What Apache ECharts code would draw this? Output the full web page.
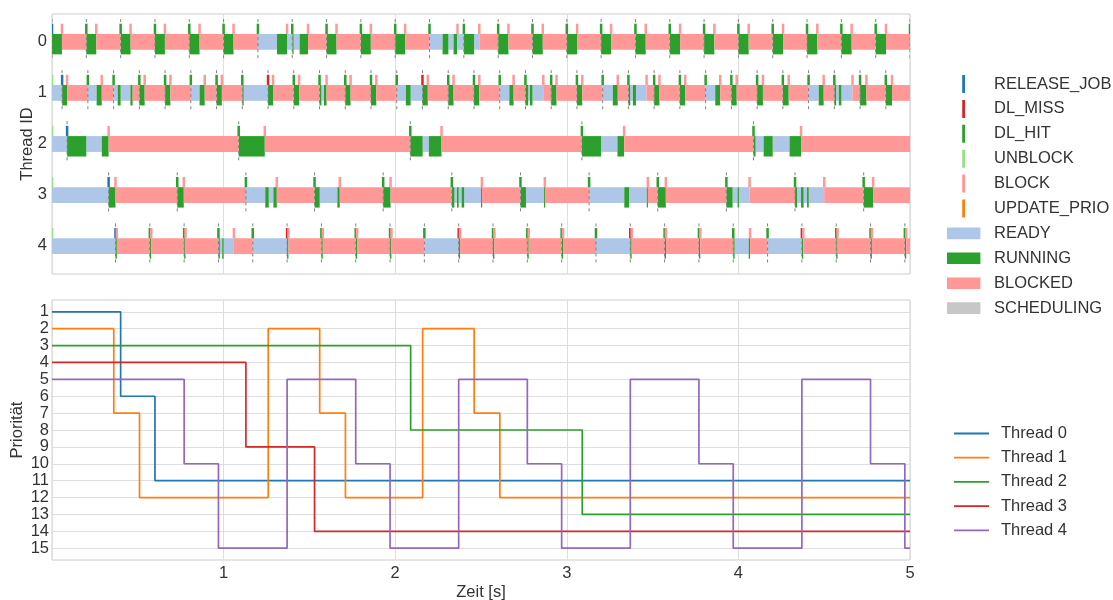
<!DOCTYPE html>
<html>
<head>
<meta charset="utf-8">
<title>Scheduling</title>
<script src="https://cdn.jsdelivr.net/npm/echarts@6.0.0/dist/echarts.min.js"></script>
<style>
    html, body { margin: 0; padding: 0; background: #fff; }
    #chart { width: 1113px; height: 600px; }
</style>
</head>
<body>
<div id="chart"></div>
<script>
// state codes
const R = 'READY', X = 'RUNNING', B = 'BLOCKED';
// event codes
const J = 'RELEASE_JOB', M = 'DL_MISS', H = 'DL_HIT', U = 'UNBLOCK', K = 'BLOCK';

const threadIds = [0, 1, 2, 3, 4];
const stateNames = ['READY', 'RUNNING', 'BLOCKED', 'SCHEDULING'];
const eventNames = ['RELEASE_JOB', 'DL_MISS', 'DL_HIT', 'UNBLOCK', 'BLOCK', 'UPDATE_PRIO'];
const threadNames = ['Thread 0', 'Thread 1', 'Thread 2', 'Thread 3', 'Thread 4'];
const xTicks = [0, 1, 2, 3, 4, 5];
const prioTicks = [1, 2, 3, 4, 5, 6, 7, 8, 9, 10, 11, 12, 13, 14, 15];
const tEnd = 5;

// state changes per thread: [time, state], state holds until next change
const thread0States = [
    [0, X], [0.058, B], [0.2, X], [0.258, B], [0.4, X], [0.458, B], [0.6, X], [0.658, B],
    [0.8, X], [0.86, B], [1.0, X], [1.058, B],
    [1.2, R], [1.311, X], [1.37, R], [1.401, X], [1.408, R], [1.443, X], [1.492, B],
    [1.6, X], [1.658, B], [1.8, X], [1.858, B], [2.0, X], [2.058, B],
    [2.2, R], [2.276, X], [2.31, R], [2.34, X], [2.36, R], [2.4, X], [2.46, R], [2.49, B],
    [2.6, X], [2.66, B], [2.8, X], [2.86, B], [3.0, X], [3.06, B], [3.2, X], [3.258, B],
    [3.4, X], [3.46, B], [3.6, X], [3.66, B], [3.8, X], [3.86, B], [4.0, X], [4.06, B],
    [4.2, X], [4.26, B], [4.4, X], [4.46, B], [4.6, X], [4.66, B], [4.8, X], [4.86, B]
];
const thread1States = [
    [0, R], [0.059, X], [0.088, B], [0.209, R], [0.26, X], [0.29, B],
    [0.359, R], [0.383, X], [0.4, R], [0.457, X], [0.47, B], [0.509, X], [0.54, B],
    [0.659, X], [0.69, B], [0.809, R], [0.86, X], [0.89, B], [0.959, X], [0.99, B],
    [1.109, X], [1.117, R], [1.259, X], [1.288, B], [1.409, X], [1.44, B],
    [1.559, X], [1.57, R], [1.585, X], [1.6, B], [1.709, X], [1.74, B], [1.859, X], [1.89, B],
    [2.009, R], [2.062, X], [2.09, R], [2.159, X], [2.19, B], [2.309, X], [2.34, B],
    [2.459, X], [2.49, B], [2.609, R], [2.665, X], [2.69, B],
    [2.759, X], [2.775, R], [2.785, X], [2.8, R], [2.863, B], [2.909, X], [2.94, B],
    [3.059, X], [3.09, B], [3.209, R], [3.268, X], [3.297, B],
    [3.359, X], [3.37, R], [3.385, X], [3.403, R], [3.465, B], [3.509, X], [3.54, B],
    [3.659, X], [3.69, B], [3.809, R], [3.865, X], [3.894, B], [3.959, X], [3.99, B],
    [4.109, X], [4.143, B], [4.259, X], [4.293, B], [4.409, R], [4.468, X], [4.497, B],
    [4.559, X], [4.57, R], [4.585, X], [4.6, R], [4.665, B], [4.709, X], [4.746, B],
    [4.859, X], [4.895, B]
];
const thread2States = [
    [0, R], [0.088, X], [0.2, R], [0.29, X], [0.33, B],
    [1.088, X], [1.24, B],
    [2.088, X], [2.16, R], [2.196, X], [2.27, B],
    [3.088, X], [3.2, R], [3.295, X], [3.334, B],
    [4.088, X], [4.1, R], [4.147, X], [4.2, R], [4.298, X], [4.365, B]
];
const thread3States = [
    [0, R], [0.33, X], [0.37, B], [0.73, X], [0.768, B],
    [1.13, R], [1.243, X], [1.263, R], [1.29, X], [1.31, B],
    [1.53, X], [1.56, R], [1.663, X], [1.677, B], [1.93, X], [1.973, B],
    [2.33, X], [2.345, R], [2.36, X], [2.37, R], [2.387, X], [2.402, R], [2.5, X], [2.505, B],
    [2.73, X], [2.762, R], [2.867, X], [2.872, B],
    [3.13, R], [3.335, X], [3.363, R], [3.466, X], [3.472, B], [3.53, X], [3.577, B],
    [3.93, X], [3.966, R], [3.995, X], [4.003, R], [4.065, B],
    [4.33, X], [4.342, R], [4.365, X], [4.38, R], [4.4, X], [4.41, R], [4.5, B],
    [4.73, X], [4.785, B]
];
const thread4States = [
    [0, R], [0.37, X], [0.378, B], [0.57, X], [0.578, B], [0.77, X], [0.778, B],
    [0.97, X], [0.978, R], [0.992, X], [1.0, R], [1.06, B],
    [1.17, R], [1.37, X], [1.378, B], [1.57, X], [1.578, B], [1.77, X], [1.778, B], [1.97, X], [1.978, B],
    [2.17, R], [2.37, X], [2.378, B], [2.57, X], [2.578, B], [2.77, X], [2.778, B], [2.97, X], [2.978, B],
    [3.17, R], [3.37, X], [3.378, B], [3.57, X], [3.578, B], [3.77, X], [3.778, B],
    [3.97, X], [3.978, R], [4.06, X], [4.068, B],
    [4.17, R], [4.37, X], [4.378, B], [4.57, X], [4.578, B], [4.77, X], [4.778, B], [4.97, X], [4.978, B]
];

// events per thread: [time, event]
const thread0Events = [
    [0, J], [0.2, H], [0.4, H], [0.6, H], [0.8, H], [1.0, H], [1.2, H], [1.4, H], [1.6, H], [1.8, H],
    [2.0, H], [2.2, H], [2.4, H], [2.6, H], [2.8, H], [3.0, H], [3.2, H], [3.4, H], [3.6, H], [3.8, H],
    [4.0, H], [4.2, H], [4.4, H], [4.6, H], [4.8, H], [5.0, H],
    [0.058, K], [0.258, K], [0.458, K], [0.658, K], [0.86, K], [1.058, K], [1.37, K], [1.492, K],
    [1.658, K], [1.858, K], [2.058, K], [2.363, K], [2.49, K], [2.66, K], [2.86, K], [3.06, K],
    [3.258, K], [3.46, K], [3.66, K], [3.86, K], [4.06, K], [4.26, K], [4.46, K], [4.66, K], [4.86, K]
];
const thread1Events = [
    [0, U], [0.059, J], [0.209, H], [0.359, H], [0.509, H], [0.659, H], [0.809, H], [0.959, H],
    [1.109, H], [1.259, M], [1.409, H], [1.559, H], [1.709, H], [1.859, H], [2.009, H], [2.159, M],
    [2.309, H], [2.459, H], [2.609, H], [2.759, H], [2.909, H], [3.059, H], [3.209, H], [3.359, H],
    [3.509, H], [3.659, H], [3.809, H], [3.959, H], [4.109, H], [4.259, H], [4.409, H], [4.559, H],
    [4.709, H], [4.859, H],
    [0.088, K], [0.29, K], [0.54, K], [0.69, K], [0.89, K], [0.99, K], [1.288, K], [1.44, K],
    [1.6, K], [1.74, K], [1.89, K], [2.19, K], [2.34, K], [2.49, K], [2.69, K], [2.863, K],
    [2.94, K], [3.09, K], [3.297, K], [3.465, K], [3.54, K], [3.69, K], [3.894, K], [3.99, K],
    [4.143, K], [4.293, K], [4.497, K], [4.665, K], [4.746, K], [4.895, K]
];
const thread2Events = [
    [0, U], [0.088, J], [1.088, H], [2.088, H], [3.088, H], [4.088, H],
    [0.33, K], [1.24, K], [2.27, K], [3.334, K], [4.365, K]
];
const thread3Events = [
    [0, U], [0.33, J], [0.73, H], [1.13, H], [1.53, H], [1.93, H], [2.33, H], [2.73, H],
    [3.13, H], [3.53, H], [3.93, H], [4.33, H], [4.73, H],
    [0.37, K], [0.768, K], [1.31, K], [1.677, K], [1.973, K], [2.505, K], [2.872, K],
    [3.472, K], [3.577, K], [4.065, K], [4.5, K], [4.785, K]
];
const thread4Events = [
    [0, U], [0.37, J], [0.57, H], [0.77, H], [0.97, H], [1.17, H], [1.37, M], [1.57, H], [1.77, H],
    [1.97, H], [2.17, H], [2.37, M], [2.57, H], [2.77, H], [2.97, H], [3.17, H], [3.37, M], [3.57, H],
    [3.77, H], [3.97, H], [4.17, H], [4.37, M], [4.57, H], [4.77, H], [4.97, H],
    [0.378, K], [0.578, K], [0.778, K], [1.06, K], [1.378, K], [1.578, K], [1.778, K], [1.978, K],
    [2.378, K], [2.578, K], [2.778, K], [2.978, K], [3.378, K], [3.578, K], [3.778, K], [4.068, K],
    [4.378, K], [4.578, K], [4.778, K], [4.978, K]
];

// priority over time: [time, priority], held until next point
const prio0 = [[0, 1], [0.4, 6], [0.6, 11], [5, 11]];
const prio1 = [[0, 2], [0.36, 7], [0.51, 12], [1.26, 2], [1.56, 7], [1.71, 12], [2.16, 2], [2.46, 7], [2.61, 12], [5, 12]];
const prio2 = [[0, 3], [2.09, 8], [3.09, 13], [5, 13]];
const prio3 = [[0, 4], [1.13, 9], [1.53, 14], [5, 14]];
const prio4 = [[0, 5], [0.77, 10], [0.97, 15], [1.37, 5], [1.77, 10], [1.97, 15], [2.37, 5], [2.77, 10],
    [2.97, 15], [3.37, 5], [3.77, 10], [3.97, 15], [4.37, 5], [4.77, 10], [4.97, 15], [5, 15]];

const stateColors = { READY: '#aec7e8', RUNNING: '#2ca02c', BLOCKED: '#ff9896', SCHEDULING: '#c7c7c7' };
const eventColors = {
    RELEASE_JOB: '#1f77b4', DL_MISS: '#d62728', DL_HIT: '#2ca02c',
    UNBLOCK: '#98df8a', BLOCK: '#ff9896', UPDATE_PRIO: '#ff7f0e'
};
const lineColors = ['#1f77b4', '#ff7f0e', '#2ca02c', '#d62728', '#9467bd'];

const allStates = [thread0States, thread1States, thread2States, thread3States, thread4States];
const allEvents = [thread0Events, thread1Events, thread2Events, thread3Events, thread4Events];
const allPrio = [prio0, prio1, prio2, prio3, prio4];

const FONT = 'Liberation Sans';
const TXT = '#333333';

// change points -> segments [start, end, thread]
const segmentsOf = state => {
    let out = [];
    allStates.forEach((list, tid) => {
        list.forEach((p, i) => {
            if (p[1] !== state) return;
            const end = i + 1 < list.length ? list[i + 1][0] : tEnd;
            out.push([p[0], end, threadIds[tid]]);
        });
    });
    return out;
};
const eventsOf = name => {
    let out = [];
    allEvents.forEach((list, tid) => {
        list.forEach(e => { if (e[1] === name) out.push([e[0], threadIds[tid]]); });
    });
    return out;
};
// job boundaries = release / deadline events
const boundaries = [];
allEvents.forEach((list, tid) => {
    list.forEach(e => {
        if (e[1] === J || e[1] === H || e[1] === M) boundaries.push([e[0], threadIds[tid]]);
    });
});

const barRender = (params, api) => {
    const p0 = api.coord([api.value(0), api.value(2)]);
    const p1 = api.coord([api.value(1), api.value(2)]);
    const u = api.size([0, 1])[1];
    const running = params.seriesName === 'RUNNING';
    return {
        type: 'rect',
        shape: { x: p0[0], y: p0[1] - 0.15 * u, width: Math.max(p1[0] - p0[0], 1.2), height: (running ? 0.4 : 0.31) * u },
        style: { fill: api.visual('color') }
    };
};
const eventRender = (params, api) => {
    const p = api.coord([api.value(0), api.value(1)]);
    const u = api.size([0, 1])[1];
    return {
        type: 'rect',
        shape: { x: p[0] - 1.25, y: p[1] - 0.35 * u, width: 2.5, height: 0.2 * u },
        style: { fill: api.visual('color') }
    };
};
const dashRender = (params, api) => {
    const p = api.coord([api.value(0), api.value(1)]);
    const u = api.size([0, 1])[1];
    return {
        type: 'line',
        shape: { x1: p[0], y1: p[1] - 0.44 * u, x2: p[0], y2: p[1] + 0.34 * u },
        style: { stroke: '#808080', lineWidth: 1, lineDash: [3, 3] }
    };
};

const corner = (w, h) => 'M0,0h0.01v0.01h-0.01zM' + (w - 0.01) + ',' + (h - 0.01) + 'h0.01v0.01h-0.01z';
const eventIcon = 'path://' + corner(42, 18) + 'M15.2,0h2.8v18h-2.8z';
const stateIcon = 'path://' + corner(42, 18) + 'M0,3.2h33.4v11.6h-33.4z';
const lineIcon = 'path://' + corner(42, 14) + 'M0,6.1h35v1.8h-35z';

let series = [];
stateNames.forEach(s => {
    series.push({
        name: s, type: 'custom', xAxisIndex: 0, yAxisIndex: 0, clip: true,
        itemStyle: { color: stateColors[s] }, renderItem: barRender,
        encode: { x: [0, 1], y: 2 }, data: segmentsOf(s), silent: true
    });
});
series.push({
    name: 'jobs', type: 'custom', xAxisIndex: 0, yAxisIndex: 0, clip: true,
    renderItem: dashRender, encode: { x: 0, y: 1 }, data: boundaries, silent: true, z: 3
});
eventNames.forEach(ev => {
    series.push({
        name: ev, type: 'custom', xAxisIndex: 0, yAxisIndex: 0, clip: true,
        itemStyle: { color: eventColors[ev] }, renderItem: eventRender,
        encode: { x: 0, y: 1 }, data: eventsOf(ev), silent: true, z: 4
    });
});
threadNames.forEach((n, i) => {
    series.push({
        name: n, type: 'line', xAxisIndex: 1, yAxisIndex: 1, step: 'end',
        symbol: 'none', color: lineColors[i],
        lineStyle: { width: 1.7, color: lineColors[i] },
        data: allPrio[i], silent: true
    });
});

const legendText = { fontSize: 16.5, color: TXT, fontFamily: FONT };

const option = {
    animation: false,
    textStyle: { fontFamily: FONT },
    grid: [
        { left: 52, top: 14, width: 858, height: 260, show: true, borderColor: '#cccccc', borderWidth: 1, outerBoundsMode: 'none', containLabel: false },
        { left: 52, top: 300, width: 858, height: 260, show: true, borderColor: '#cccccc', borderWidth: 1, outerBoundsMode: 'none', containLabel: false }
    ],
    legend: [
        {
            orient: 'vertical', left: 947, top: 75, padding: 0,
            itemWidth: 42, itemHeight: 18, itemGap: 6.9, selectedMode: false,
            itemStyle: { borderWidth: 0 }, textStyle: legendText,
            data: eventNames.map(n => ({ name: n, icon: eventIcon }))
                .concat(stateNames.map(n => ({ name: n, icon: stateIcon })))
        },
        {
            orient: 'vertical', left: 954, top: 425, padding: 0,
            itemWidth: 42, itemHeight: 14, itemGap: 7.2, selectedMode: false,
            itemStyle: { borderWidth: 0 }, textStyle: legendText,
            data: threadNames.map(n => ({ name: n, icon: lineIcon }))
        }
    ],
    xAxis: [
        {
            gridIndex: 0, type: 'value', min: xTicks[0], max: xTicks[xTicks.length - 1], interval: 1,
            axisLine: { show: false }, axisTick: { show: false }, axisLabel: { show: false },
            splitLine: { lineStyle: { color: '#dedede', width: 1 } }
        },
        {
            gridIndex: 1, type: 'value', min: xTicks[0], max: xTicks[xTicks.length - 1], interval: 1,
            axisLine: { show: false }, axisTick: { show: false },
            axisLabel: { fontSize: 16.5, color: TXT, margin: 5, formatter: v => (v === 0 ? '' : v) },
            splitLine: { lineStyle: { color: '#dedede', width: 1 } },
            name: 'Zeit [s]', nameLocation: 'middle', nameGap: 24, nameMoveOverlap: false,
            nameTextStyle: { fontSize: 16.5, color: TXT }
        }
    ],
    yAxis: [
        {
            gridIndex: 0, type: 'value', inverse: true, min: -0.54, max: 4.55,
            axisLine: { show: false },
            axisTick: { show: false, customValues: threadIds },
            axisLabel: { fontSize: 16.5, color: TXT, margin: 5, customValues: threadIds },
            splitLine: { show: false },
            name: 'Thread ID', nameLocation: 'middle', nameGap: 16, nameMoveOverlap: false,
            nameTextStyle: { fontSize: 16.5, color: TXT }
        },
        {
            gridIndex: 1, type: 'value', inverse: true, min: 0.3, max: 15.7,
            axisLine: { show: false },
            axisTick: { show: false, customValues: prioTicks },
            axisLabel: { fontSize: 16.5, color: TXT, margin: 3, customValues: prioTicks },
            splitLine: { lineStyle: { color: '#dedede', width: 1 } },
            name: 'Priorität', nameLocation: 'middle', nameGap: 26, nameMoveOverlap: false,
            nameTextStyle: { fontSize: 16.5, color: TXT }
        }
    ],
    series: series
};

const chart = echarts.init(document.getElementById('chart'), null, { renderer: 'canvas' });
chart.setOption(option);
</script>
</body>
</html>
